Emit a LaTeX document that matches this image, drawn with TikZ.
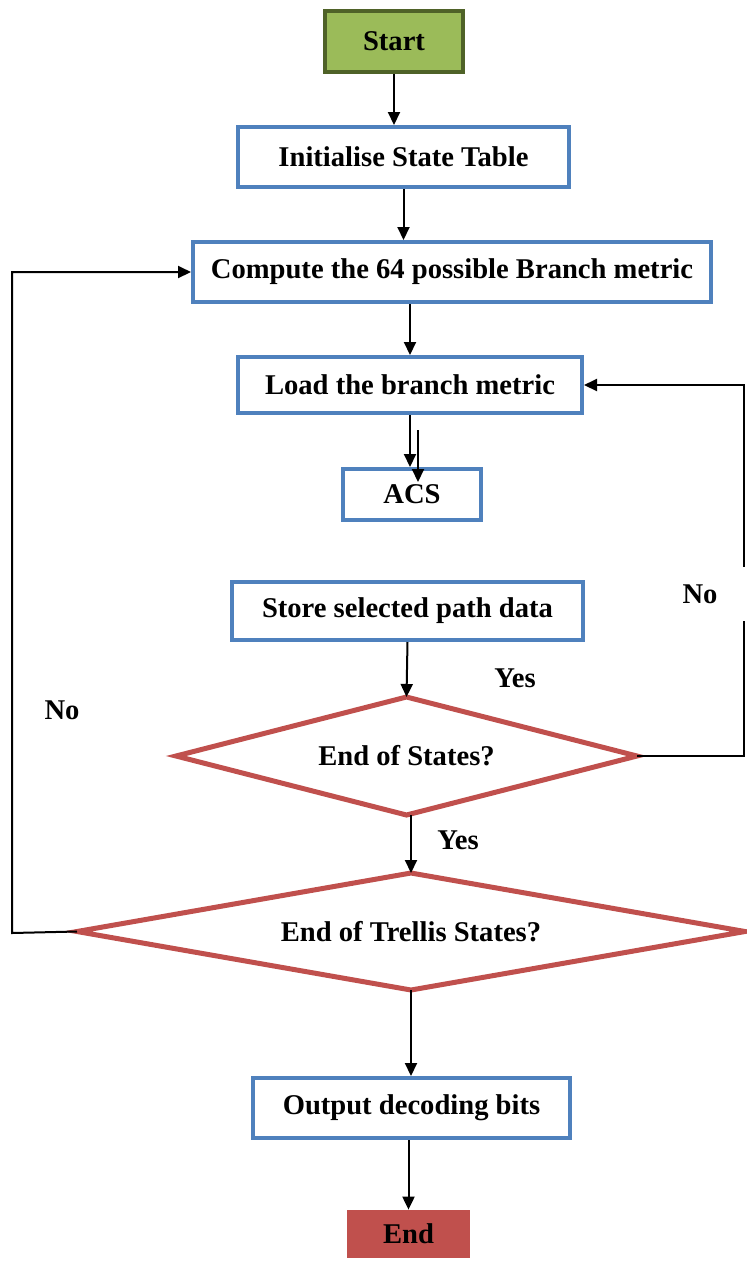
\documentclass[tikz,border=0pt]{standalone}
\usepackage{fontspec}
\setmainfont{Liberation Serif}
\usetikzlibrary{arrows.meta,calc,shapes.geometric}
\definecolor{boxblue}{HTML}{4F81BD}
\definecolor{decred}{HTML}{C0504D}
\definecolor{startgreen}{HTML}{9BBB59}
\definecolor{startedge}{HTML}{4F6228}

\begin{document}
\begin{tikzpicture}[x=0.5pt,y=-0.5pt,
  every node/.style={font=\bfseries\fontsize{14.3}{17}\selectfont},
  box/.style={draw=boxblue,line width=2pt,rectangle,inner sep=0pt},
  decision/.style={draw=decred,line width=2.5pt,diamond,inner sep=0pt,outer sep=0pt},
  arr/.style={line width=1pt,-{Triangle[length=6.5pt,width=6pt]}}]

\useasboundingbox (0,0) rectangle (747,1266);

\node[rectangle,draw=startedge,fill=startgreen,line width=2pt,minimum width=69pt,minimum height=30.5pt] (start) at (394,41.5) {Start};
\node[box,minimum width=165.5pt,minimum height=30pt] (init) at (403.5,157) {Initialise State Table};
\node[box,minimum width=259pt,minimum height=30pt] (compute) at (452,272) {Compute the 64 possible Branch metric};
\node[box,minimum width=172pt,minimum height=28pt] (load) at (410,385) {Load the branch metric};
\node[box,minimum width=69pt,minimum height=25.5pt] (acs) at (412,494.5) {ACS};
\node[box,minimum width=175.5pt,minimum height=29pt] (store) at (407.5,611) {Store selected path data};
\node[decision,minimum width=230.5pt,minimum height=59pt,aspect=3.9] (endstates) at (406.5,756) {End of States?};
\node[decision,minimum width=334pt,minimum height=58.5pt,aspect=5.7] (endtrellis) at (411,931.5) {End of Trellis States?};
\node[box,minimum width=158.5pt,minimum height=30pt] (output) at (411.5,1108) {Output decoding bits};
\node[rectangle,fill=decred,minimum width=61.5pt,minimum height=24pt] (stop) at (408.5,1234) {End};

\coordinate (rloop) at (744,756);
\coordinate (lloop) at (12,933);

\draw[arr] (start.south) -- (start.south |- init.north);
\draw[arr] (init.south) -- (init.south |- compute.north);
\draw[arr] (compute.south -| load) -- (load.north);
\draw[arr] (load.south) -- (load.south |- acs.north);
\draw[arr] ($(load.south)+(8,15)$) -- ($(load.south |- acs.north)+(8,15)$);
\draw[arr] (store.south) -- (endstates.north);
\draw[arr] (endtrellis.north |- endstates.south) -- (endtrellis.north);
\draw[arr] (endtrellis.south) -- (output.north -| endtrellis);
\draw[arr] (output.south -| stop) -- (stop.north);
\draw[arr] (endstates.east) -- (rloop) |- (load.east);
\draw[arr] (endtrellis.west) -- (lloop) |- (compute.west);

\node[fill=white,minimum width=48pt,minimum height=27pt] (nostates) at (700,594) {No};
\node (yesstore) at (515,678) {Yes};
\node (yesstates) at (458,840) {Yes};
\node (notrellis) at (62,710) {No};

\end{tikzpicture}
\end{document}
